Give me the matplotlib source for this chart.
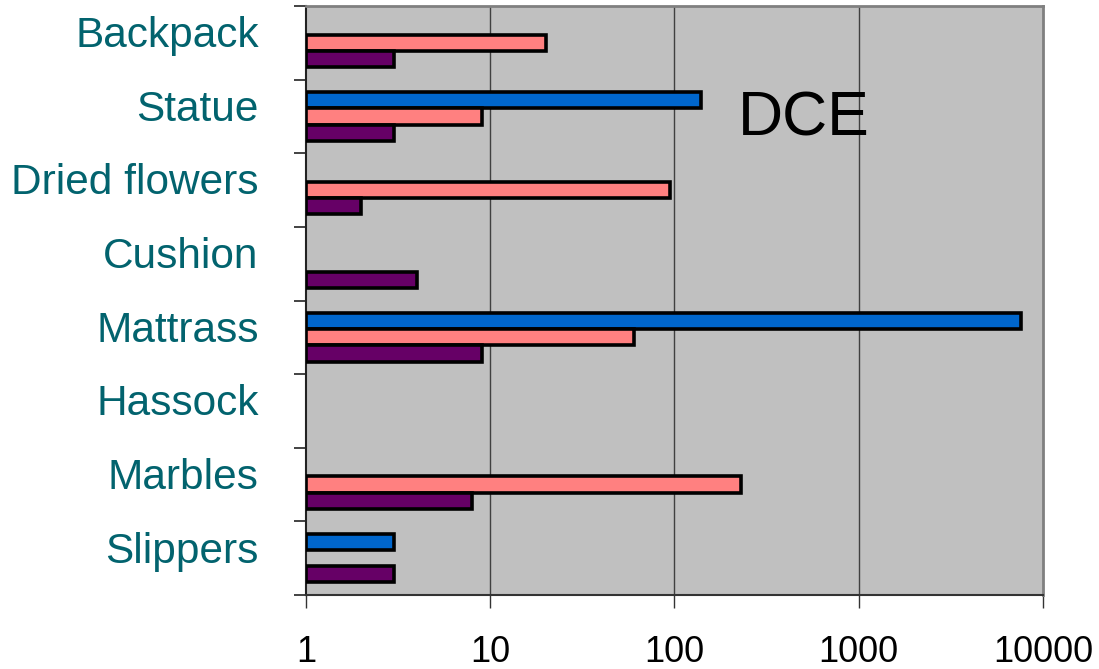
import numpy as np
import matplotlib
matplotlib.use("Agg")
import matplotlib.pyplot as plt
import matplotlib.transforms as mtransforms

plt.rcParams['font.family'] = ['Liberation Sans', 'DejaVu Sans']

categories = ["Backpack", "Statue", "Dried flowers", "Cushion",
              "Mattrass", "Hassock", "Marbles", "Slippers"]
series_blue = [None, 140, None, None, 7600, None, None, 3]
series_pink = [20, 9, 95, None, 60, None, 230, None]
series_purple = [3, 3, 2, 4, 9, None, 8, 3]
x_ticks = [1, 10, 100, 1000, 10000]
x_tick_labels = ["1", "10", "100", "1000", "10000"]

series = [
    (series_blue, "#0066CC", -0.22),
    (series_pink, "#FF8080", 0.0),
    (series_purple, "#660066", 0.22),
]

fig = plt.figure(figsize=(10.99, 6.69), dpi=100)
ax = fig.add_axes([0.2784, 0.1106, 0.6706, 0.8804])
ax.set_facecolor("#C0C0C0")

ax.set_xscale("log")
ax.set_xlim(1, 10000)
ax.set_ylim(len(categories) - 0.5, -0.5)

for values, color, offset in series:
    idx = [i for i, v in enumerate(values) if v is not None]
    vals = np.array([values[i] for i in idx], dtype=float)
    ypos = np.array(idx, dtype=float) + offset
    ax.barh(ypos, vals - 1, left=1, height=0.22, color=color,
            edgecolor="black", linewidth=2.6, zorder=3)

# vertical gridlines at each decade
for xv in x_ticks[1:-1]:
    ax.axvline(xv, color="#404040", linewidth=1.0, zorder=1)

ax.set_xticks(x_ticks)
ax.set_xticklabels(x_tick_labels, fontsize=26)
ax.xaxis.set_minor_locator(matplotlib.ticker.NullLocator())
ax.tick_params(axis="x", which="major", length=9, width=1.0,
               color="#333333", pad=20)

# category boundaries carry the tick marks; labels sit on minor ticks
ax.set_yticks(np.arange(-0.5, len(categories), 1.0))
ax.set_yticklabels([])
ax.set_yticks(np.arange(len(categories)), minor=True)
ax.set_yticklabels(categories, minor=True, fontsize=30.5, color="#02636E")
ax.tick_params(axis="y", which="major", length=9, width=1.2,
               color="#222222")
ax.tick_params(axis="y", which="minor", length=0, pad=34)
shift = mtransforms.ScaledTranslation(0, 8 / 72, fig.dpi_scale_trans)
for lbl in ax.get_yticklabels(minor=True):
    lbl.set_transform(lbl.get_transform() + shift)

ax.spines["left"].set_color("#222222")
ax.spines["left"].set_linewidth(1.5)
ax.spines["bottom"].set_color("#333333")
ax.spines["bottom"].set_linewidth(1.5)
ax.spines["top"].set_color("#808080")
ax.spines["top"].set_linewidth(2)
ax.spines["right"].set_color("#808080")
ax.spines["right"].set_linewidth(2)

ax.text(0.676, 0.808, "DCE", transform=ax.transAxes, fontsize=45,
        ha="center", va="center", color="black", zorder=4)

fig.savefig("out.png", dpi=100)
